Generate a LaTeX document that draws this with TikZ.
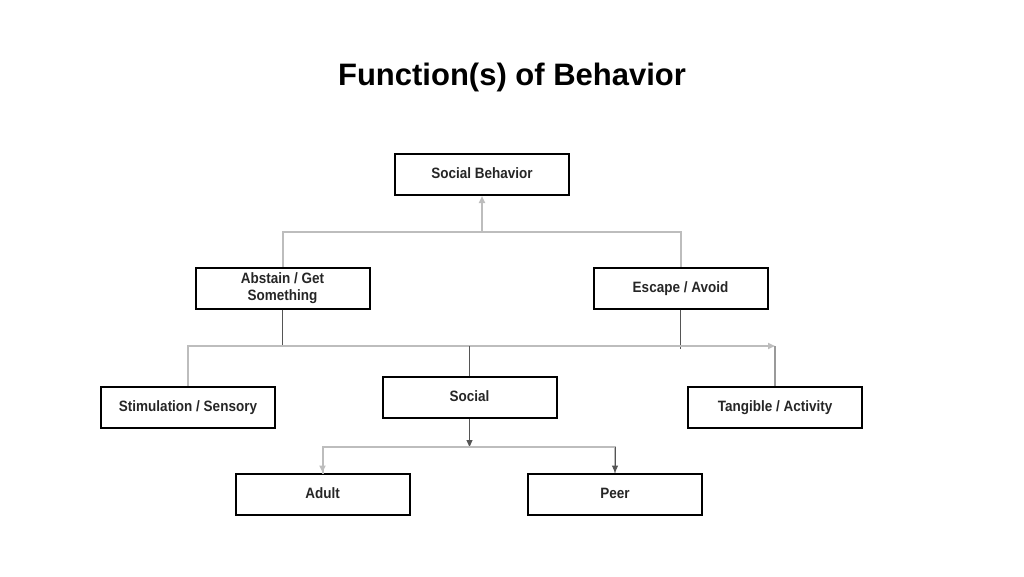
\documentclass[tikz,border=0pt]{standalone}
\usepackage{fontspec}
\setmainfont{Liberation Sans}
\newfontfamily\boxfont[FakeStretch=0.9]{Liberation Sans}
\usetikzlibrary{arrows.meta}
\definecolor{lightline}{HTML}{BDBDBD}
\definecolor{midline}{HTML}{9A9A9A}
\definecolor{darkline}{HTML}{555555}
\tikzset{
  box/.style={draw=black, line width=2pt, minimum width=174pt, minimum height=41pt,
    inner sep=2pt, align=center, font=\boxfont\fontsize{15}{17}\selectfont\bfseries, text=black!85},
  onel/.style={text height=11pt, text depth=3pt},
  lg/.style={draw=lightline, line width=2pt},
  mg/.style={draw=midline, line width=1.2pt},
  dk/.style={draw=darkline, line width=1pt},
  tip/.style={-{Triangle[length=7pt,width=6pt]}},
}
\begin{document}
\begin{tikzpicture}[x=1pt,y=-1pt]
\useasboundingbox (0,0) rectangle (1024,576);
\node[font=\fontsize{31}{36}\selectfont\bfseries] (title) at (512,77) {Function(s) of Behavior};

\node[box,onel] (sb) at (482,174.5) {Social Behavior};
\node[box] (ag) at (282.5,288) {Abstain / Get\\Something};
\node[box,onel] (ea) at (680.5,288) {Escape / Avoid};
\node[box,onel] (ss) at (188,407) {Stimulation / Sensory};
\node[box,onel] (so) at (469.5,397.5) {Social};
\node[box,onel] (ta) at (775,407) {Tangible / Activity};
\node[box,onel] (ad) at (322.5,494) {Adult};
\node[box,onel] (pe) at (615,494) {Peer};

\coordinate (j1) at (482,232);
\coordinate (h2) at (469.5,346);
\coordinate (j3) at (469.5,447);

% top tree
\draw[lg] (ag.north) |- (j1) -| (ea.north);
\draw[lg,tip] (j1) -- (sb.south);

% middle bar
\draw[dk] (ag.south) -- (ag.south |- h2);
\draw[dk] (ea.south) -- ([yshift=-3pt]ea.south |- h2);
\draw[lg,tip] (ss.north) |- (ta.north |- h2);
\draw[mg] (ta.north |- h2) -- (ta.north);
\draw[dk] (h2) -- (so.north);

% bottom tree
\draw[dk,tip] (so.south) -- (j3);
\draw[lg] (j3) -| ([yshift=-1pt]ad.north);
\draw[lg,tip] (ad.north |- j3) -- (ad.north);
\draw[lg] (j3) -| (pe.north);
\draw[dk,tip] (pe.north |- j3) -- (pe.north);
\end{tikzpicture}
\end{document}
